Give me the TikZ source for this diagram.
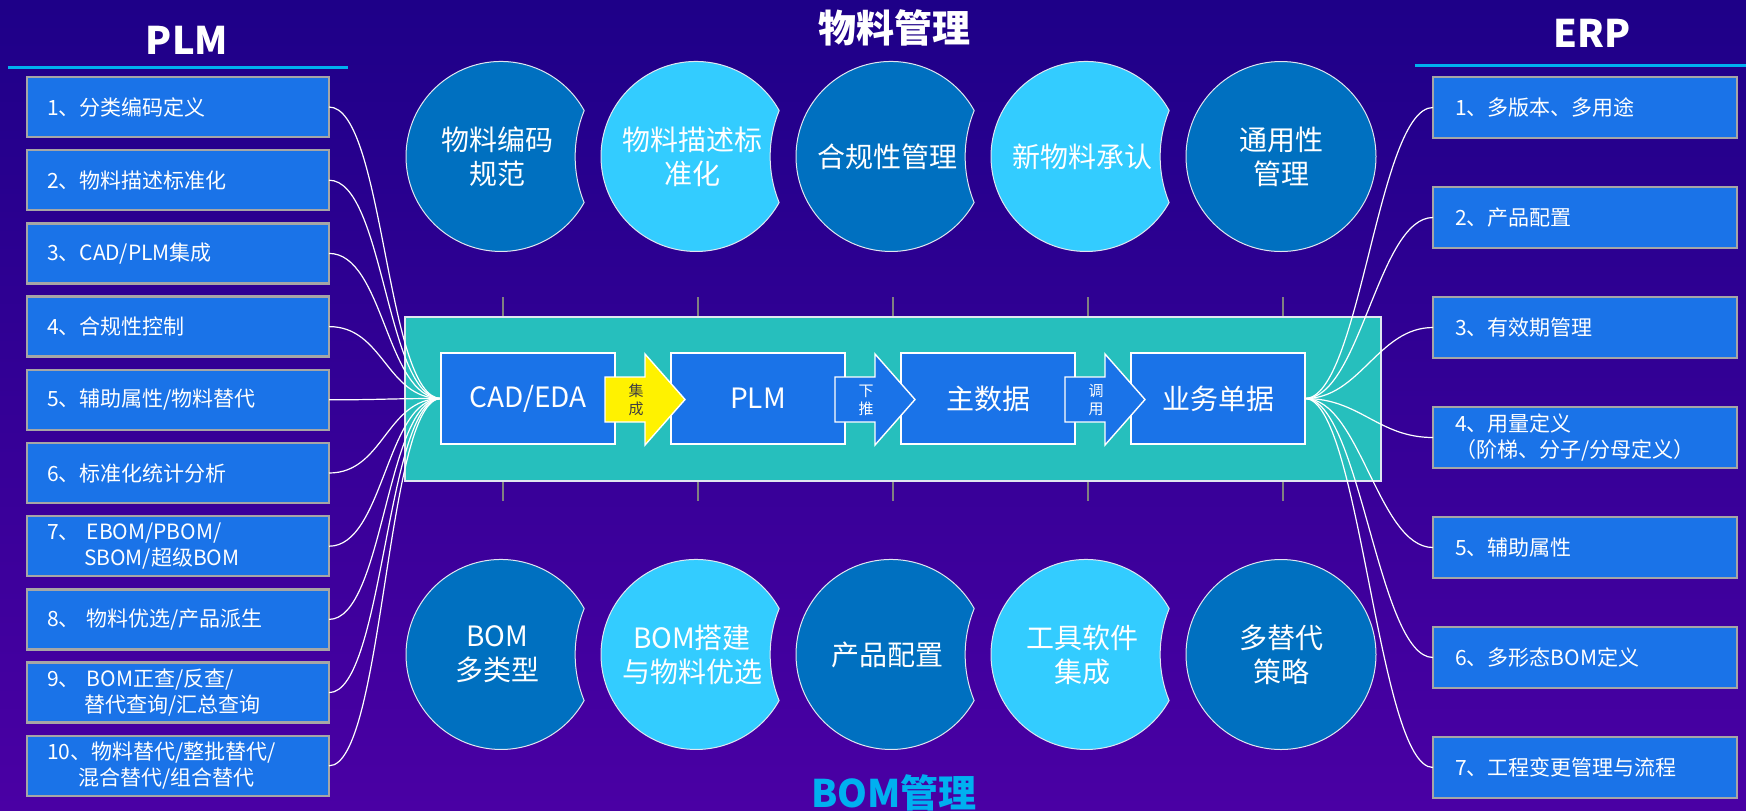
\documentclass[tikz,border=0pt]{standalone}
\usepackage{fontspec}
\setmainfont{Noto Sans CJK SC}
\definecolor{bgtop}{RGB}{30,0,136}
\definecolor{bgbot}{RGB}{74,0,164}
\definecolor{boxblue}{RGB}{26,115,232}
\definecolor{boxgray}{RGB}{166,166,166}
\definecolor{circdark}{RGB}{0,112,192}
\definecolor{circlight}{RGB}{51,204,255}
\definecolor{circedge}{RGB}{225,230,240}
\definecolor{tealbg}{RGB}{38,191,189}
\definecolor{titlecyan}{RGB}{0,176,240}
\definecolor{tickgray}{RGB}{128,128,128}
\definecolor{arrowtxt}{RGB}{64,64,64}
\newcommand\bitecircle[3]{%
  \filldraw[fill=#3, draw=circedge, line width=0.5pt]
    ({#1+83.1},{#2-46.1}) arc[start angle=-29, end angle=-331, radius=95]
    arc[start angle=157.9, end angle=202.1, radius=122] -- cycle;}
\newcommand\fullcircle[3]{%
  \filldraw[fill=#3, draw=circedge, line width=0.5pt] (#1,#2) circle[radius=95];}
\newcommand\flowarrow[2]{%
  \filldraw[fill=#2, draw=white, line width=0.7pt]
    ({#1-10},377) -- ({#1+30},377) -- ({#1+30},354) -- ({#1+70},399.5)
    -- ({#1+30},445) -- ({#1+30},422) -- ({#1-10},422) -- cycle;}
\begin{document}
\begin{tikzpicture}[x=0.5pt,y=-0.5pt,
  lbox/.style={rectangle, fill=boxblue, draw=boxgray, line width=1.2pt,
    minimum height=30pt, inner ysep=0pt, inner xsep=10pt, text width=131pt,
    align=left, text=white, font=\fontsize{10.5}{13}\selectfont,
    anchor=north west, outer sep=0pt},
  rbox/.style={lbox, inner xsep=11pt, text width=130pt, minimum height=30.5pt},
  cbox/.style={rectangle, fill=boxblue, draw=white, line width=0.7pt,
    minimum width=87pt, minimum height=45.5pt, text=white,
    font=\fontsize{14}{17}\selectfont, outer sep=0pt},
  atext/.style={align=center, font=\fontsize{7.5}{9}\selectfont, inner sep=0pt},
  ctext/.style={align=center, text=white, font=\fontsize{14}{17}\selectfont, inner sep=0pt},
  ttl/.style={font=\fontsize{19}{22}\selectfont\bfseries, inner sep=0pt},
  conn/.style={draw=white, line width=0.6pt},
  tickline/.style={draw=tickgray, line width=1pt},
  titleline/.style={draw=titlecyan, line width=1.5pt},
]
\useasboundingbox (0,0) rectangle (1746,810);
\fill[top color=bgtop, bottom color=bgbot] (0,0) rectangle (1746,810);

% titles
\node[ttl, text=white] (plmtitle) at (187,40) {PLM};
\node[ttl, text=white] (erptitle) at (1592,33) {ERP};
\node[ttl, text=white] (mattitle) at (894,28) {物料管理};
\node[ttl, text=titlecyan] (bomtitle) at (894,793) {BOM管理};
\coordinate (plmlA) at (8,67);
\coordinate (plmlB) at (348,67);
\coordinate (erplA) at (1415,65);
\coordinate (erplB) at (1746,65);
\draw[titleline] (plmlA) -- (plmlB);
\draw[titleline] (erplA) -- (erplB);

% top circles
\bitecircle{501}{156.5}{circdark}
\bitecircle{696}{156.5}{circlight}
\bitecircle{891}{156.5}{circdark}
\bitecircle{1086}{156.5}{circlight}
\fullcircle{1281}{156.5}{circdark}
\node[ctext] (tc1) at (497,156.5) {物料编码\\规范};
\node[ctext] (tc2) at (692,156.5) {物料描述标\\准化};
\node[ctext] (tc3) at (887,156.5) {合规性管理};
\node[ctext] (tc4) at (1082,156.5) {新物料承认};
\node[ctext] (tc5) at (1281,156.5) {通用性\\管理};

% bottom circles
\bitecircle{501}{654.5}{circdark}
\bitecircle{696}{654.5}{circlight}
\bitecircle{891}{654.5}{circdark}
\bitecircle{1086}{654.5}{circlight}
\fullcircle{1281}{654.5}{circdark}
\node[ctext] (bc1) at (497,654.5) {BOM\\多类型};
\node[ctext] (bc2) at (692,654.5) {BOM搭建\\与物料优选};
\node[ctext] (bc3) at (887,654.5) {产品配置};
\node[ctext] (bc4) at (1082,654.5) {工具软件\\集成};
\node[ctext] (bc5) at (1281,654.5) {多替代\\策略};

% ticks
\foreach \tx in {503,698,893,1088,1283}{
  \draw[tickline] (\tx,297) -- (\tx,317);
  \draw[tickline] (\tx,481) -- (\tx,501);
}

% central band
\filldraw[fill=tealbg, draw=circedge, line width=0.6pt] (405,317) rectangle (1381,481);
\node[cbox] (cad) at (528,398.5) {CAD/EDA};
\node[cbox] (plm) at (758,398.5) {PLM};
\node[cbox] (mdm) at (988,398.5) {主数据};
\node[cbox] (biz) at (1218,398.5) {业务单据};
\flowarrow{615}{yellow}
\flowarrow{845}{boxblue}
\flowarrow{1075}{boxblue}
\node[atext, text=arrowtxt] (a1) at (636,400) {集\\成};
\node[atext, text=white] (a2) at (866,400) {下\\推};
\node[atext, text=white] (a3) at (1096,400) {调\\用};

% left boxes
\node[lbox] (L1) at (27,77) {1、分类编码定义};
\node[lbox] (L2) at (27,150.2) {2、物料描述标准化};
\node[lbox] (L3) at (27,223.4) {3、CAD/PLM集成};
\node[lbox] (L4) at (27,296.6) {4、合规性控制};
\node[lbox] (L5) at (27,369.8) {5、辅助属性/物料替代};
\node[lbox] (L6) at (27,443) {6、标准化统计分析};
\node[lbox] (L7) at (27,516.2) {7、 EBOM/PBOM/\\\hspace*{18.5pt}SBOM/超级BOM};
\node[lbox] (L8) at (27,589.4) {8、 物料优选/产品派生};
\node[lbox] (L9) at (27,662.6) {9、 BOM正查/反查/\\\hspace*{18.5pt}替代查询/汇总查询};
\node[lbox] (L10) at (27,735.8) {10、物料替代/整批替代/\\\hspace*{15.5pt}混合替代/组合替代};

% right boxes
\node[rbox] (R1) at (1433,77) {1、多版本、多用途};
\node[rbox] (R2) at (1433,187) {2、产品配置};
\node[rbox] (R3) at (1433,297) {3、有效期管理};
\node[rbox] (R4) at (1433,407) {4、用量定义\\（阶梯、分子/分母定义）};
\node[rbox] (R5) at (1433,517) {5、辅助属性};
\node[rbox] (R6) at (1433,627) {6、多形态BOM定义};
\node[rbox] (R7) at (1433,737) {7、工程变更管理与流程};

% connectors
\foreach \n in {L1,L2,L3,L4,L5,L6,L7,L8,L9,L10}{
  \draw[conn] (\n.east) .. controls +(55,0) and +(-55,0) .. (cad.west);
}
\foreach \n in {R1,R2,R3,R4,R5,R6,R7}{
  \draw[conn] (\n.west) .. controls +(-55,0) and +(55,0) .. (biz.east);
}
\end{tikzpicture}
\end{document}
